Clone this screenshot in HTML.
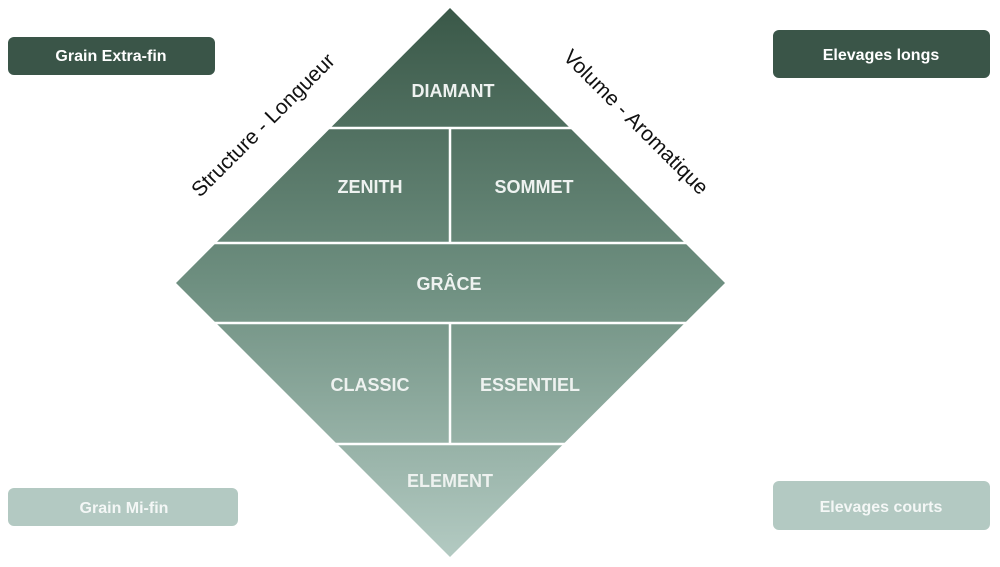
<!DOCTYPE html>
<html><head><style>
html,body{margin:0;padding:0;background:#fff;}
svg{display:block;}
text{font-family:"Liberation Sans",sans-serif;}
</style></head><body>
<svg width="1000" height="567" viewBox="0 0 1000 567" xmlns="http://www.w3.org/2000/svg">
<defs>
<linearGradient id="g" x1="0" y1="8" x2="0" y2="557" gradientUnits="userSpaceOnUse">
<stop offset="0" stop-color="#3a5848"/>
<stop offset="0.5" stop-color="#6e8f80"/>
<stop offset="1" stop-color="#b3cac2"/>
</linearGradient>
</defs>
<polygon points="450,8 725,283 450,557 176,283" fill="url(#g)"/>
<g stroke="#ffffff" stroke-width="2.5">
<line x1="300" y1="128" x2="600" y2="128"/>
<line x1="200" y1="243" x2="700" y2="243"/>
<line x1="200" y1="323" x2="700" y2="323"/>
<line x1="300" y1="444" x2="600" y2="444"/>
<line x1="450" y1="128" x2="450" y2="243"/>
<line x1="450" y1="323" x2="450" y2="444"/>
</g>
<g fill="#eef2f0" font-weight="bold" font-size="18" text-anchor="middle">
<text x="453" y="97">DIAMANT</text>
<text x="370" y="193">ZENITH</text>
<text x="534" y="193">SOMMET</text>
<text x="449" y="290">GRÂCE</text>
<text x="370" y="391">CLASSIC</text>
<text x="530" y="391">ESSENTIEL</text>
<text x="450" y="487">ELEMENT</text>
</g>
<text x="268" y="130" font-size="21" fill="#111" text-anchor="middle" transform="rotate(-45 268 130)">Structure - Longueur</text>
<text x="631" y="127" font-size="21" fill="#111" text-anchor="middle" transform="rotate(45 631 127)">Volume - Aromatique</text>
<rect x="8" y="37" width="207" height="38" rx="6" fill="#3a5548"/>
<text x="111" y="61" font-size="16" font-weight="bold" fill="#fff" text-anchor="middle">Grain Extra-fin</text>
<rect x="773" y="30" width="217" height="48" rx="6" fill="#3a5548"/>
<text x="881" y="60" font-size="16" font-weight="bold" fill="#fff" text-anchor="middle">Elevages longs</text>
<rect x="8" y="488" width="230" height="38" rx="6" fill="#b3c9c2"/>
<text x="124" y="513" font-size="16" font-weight="bold" fill="#f4f7f6" text-anchor="middle">Grain Mi-fin</text>
<rect x="773" y="481" width="217" height="49" rx="6" fill="#b3c9c2"/>
<text x="881" y="512" font-size="16" font-weight="bold" fill="#f4f7f6" text-anchor="middle">Elevages courts</text>
</svg>
</body></html>
